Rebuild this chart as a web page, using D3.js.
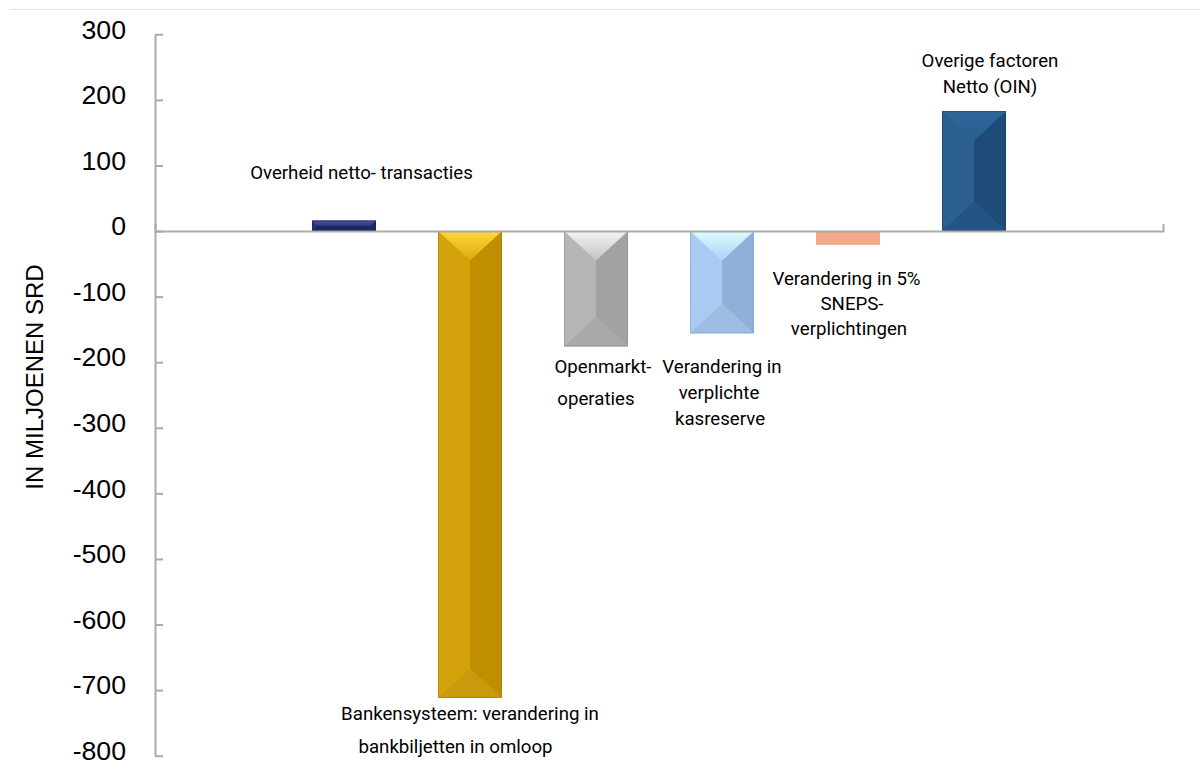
<!DOCTYPE html>
<html>
<head>
<meta charset="utf-8">
<script src="https://cdn.jsdelivr.net/npm/d3@7"></script>
<style>
  html, body { margin: 0; padding: 0; background: #ffffff; }
  svg { display: block; }
</style>
</head>
<body>
<svg id="chart" width="1200" height="769"></svg>
<script>
// Monetaire factoren: bijdrage aan de verandering van de geldhoeveelheid (mln SRD)
const categories = [
  "Overheid netto- transacties",
  "Bankensysteem: verandering in bankbiljetten in omloop",
  "Openmarkt-operaties",
  "Verandering in verplichte kasreserve",
  "Verandering in 5% SNEPS-verplichtingen",
  "Overige factoren Netto (OIN)"
];
const values = [16, -712, -176, -156, -21, 183];
const tickValues = [300, 200, 100, 0, -100, -200, -300, -400, -500, -600, -700, -800];
const labelLines = [
  ["Overheid netto- transacties"],
  ["Bankensysteem: verandering in", "bankbiljetten in omloop"],
  ["Openmarkt-", "operaties"],
  ["Verandering in", "verplichte", "kasreserve"],
  ["Verandering in 5%", "SNEPS-", "verplichtingen"],
  ["Overige factoren", "Netto (OIN)"]
];
const yTitle = "IN MILJOENEN SRD";

// Bevelled fills per bar: top, left, right, bottom, edge
const palettes = [
  { top: ["#4a56a3", "#2f3a80"], left: "#29337a", right: "#1f2866", bottom: "#1d265f", edge: "#1a2258", bevel: true },
  { top: ["#ffd83a", "#dcaa0c"], left: "#d4a20b", right: "#c08f00", bottom: "#c99a0b", edge: "#a07a00", bevel: true },
  { top: ["#f4f4f4", "#c4c4c4"], left: "#b6b6b6", right: "#a2a2a2", bottom: "#a9a9a9", edge: "#8c8c8c", bevel: true },
  { top: ["#dcfdff", "#aed2f4"], left: "#a9cbf2", right: "#8eb0d9", bottom: "#9dbde3", edge: "#7f9fc6", bevel: true },
  { flat: "#f3a98a", bevel: false },
  { top: ["#2e679a", "#2a5e8f"], left: "#2a5f90", right: "#1f4b78", bottom: "#235488", edge: "#1a3e66", bevel: true }
];

const svg = d3.select("#chart");
const plotLeft = 155, plotRight = 1163, plotTop = 34.3, plotBottom = 755.7;

const x = d3.scaleBand()
  .domain(categories)
  .range([plotLeft, plotRight])
  .paddingInner(0.492)
  .paddingOuter(1.246);

const y = d3.scaleLinear()
  .domain([-800, 300])
  .range([plotBottom, plotTop]);

// thin rule across the top of the page
svg.append("line")
  .attr("x1", 10).attr("x2", 1200)
  .attr("y1", 9.5).attr("y2", 9.5)
  .attr("stroke", "#e4e4e4").attr("stroke-width", 1);

// gradients for the top bevels
const defs = svg.append("defs");
palettes.forEach((p, i) => {
  if (!p.bevel) return;
  const g = defs.append("linearGradient")
    .attr("id", "topg" + i)
    .attr("x1", 0).attr("y1", 0).attr("x2", 0).attr("y2", 1);
  g.append("stop").attr("offset", "0%").attr("stop-color", p.top[0]);
  g.append("stop").attr("offset", "100%").attr("stop-color", p.top[1]);
});

// bars
const bars = svg.append("g").attr("class", "bars");
categories.forEach((c, i) => {
  const v = values[i];
  const p = palettes[i];
  const x0 = x(c), x1 = x(c) + x.bandwidth();
  const y0 = Math.min(y(v), y(0)), y1 = Math.max(y(v), y(0));
  const g = bars.append("g");
  if (!p.bevel) {
    g.append("rect")
      .attr("x", x0).attr("y", y0)
      .attr("width", x1 - x0).attr("height", y1 - y0)
      .attr("fill", p.flat);
    return;
  }
  // bevel depth: half the bar width, capped by half its height
  const half = (y1 - y0) / 2;
  const d = Math.min((x1 - x0) / 2, half);
  const dy = half > (x1 - x0) / 2 ? d * 0.92 : d;
  const poly = pts => "M" + pts.map(q => q.join(",")).join("L") + "Z";
  g.append("rect")
    .attr("x", x0).attr("y", y0)
    .attr("width", x1 - x0).attr("height", y1 - y0)
    .attr("fill", p.left);
  g.append("path").attr("d", poly([[x0, y0], [x0 + d, y0 + dy], [x0 + d, y1 - dy], [x0, y1]])).attr("fill", p.left);
  g.append("path").attr("d", poly([[x1, y0], [x1 - d, y0 + dy], [x1 - d, y1 - dy], [x1, y1]])).attr("fill", p.right);
  g.append("path").attr("d", poly([[x0, y1], [x1, y1], [x1 - d, y1 - dy], [x0 + d, y1 - dy]])).attr("fill", p.bottom);
  g.append("path").attr("d", poly([[x0, y0], [x1, y0], [x1 - d, y0 + dy], [x0 + d, y0 + dy]])).attr("fill", "url(#topg" + i + ")");
  g.append("rect")
    .attr("x", x0 + 0.5).attr("y", y0 + 0.5)
    .attr("width", x1 - x0 - 1).attr("height", y1 - y0 - 1)
    .attr("fill", "none").attr("stroke", p.edge).attr("stroke-opacity", 0.5).attr("stroke-width", 1);
});

// category axis along zero
const xAxis = svg.append("g")
  .attr("transform", `translate(0,${y(0)})`)
  .call(d3.axisBottom(x).tickSize(0).tickSizeOuter(-7).tickFormat(""));
xAxis.select(".domain").attr("stroke", "#ababab").attr("stroke-width", 2);

// value axis
const yAxis = svg.append("g")
  .attr("transform", `translate(${plotLeft},0)`)
  .call(d3.axisLeft(y).tickValues(tickValues).tickSize(-8).tickSizeOuter(0).tickPadding(29)
    .tickFormat(d => String(d)));
yAxis.select(".domain").attr("stroke", "#ababab").attr("stroke-width", 2);
yAxis.selectAll(".tick line").attr("stroke", "#ababab").attr("stroke-width", 2);
yAxis.selectAll(".tick text")
  .attr("fill", "#000")
  .attr("dy", "0.14em")
  .style("font-family", "'Liberation Sans', Arial, sans-serif")
  .style("font-size", "26.67px");

// axis title
svg.append("text")
  .attr("transform", `translate(43,${377}) rotate(-90)`)
  .attr("text-anchor", "middle")
  .style("font-family", "'Liberation Sans', Arial, sans-serif")
  .style("font-size", "24px")
  .attr("fill", "#000")
  .text(yTitle);

// data labels: offsets from bar centre / bar end, one baseline per line
const labelLayout = [
  { dx: [17.5], from: "zero", base: -52, gap: 0 },
  { dx: [0, -14.5], from: "end", base: 22, gap: 33 },
  { dx: [7, 0], from: "end", base: 27, gap: 32 },
  { dx: [0, -3, -2], from: "end", base: 40, gap: 26 },
  { dx: [-1.5, 4, 1], from: "end", base: 40, gap: 25 },
  { dx: [16, 16], from: "end", base: -44, gap: 26 }
];
const labels = svg.append("g").attr("class", "labels")
  .style("font-family", "Roboto, sans-serif")
  .style("font-size", "18.67px")
  .attr("fill", "#000")
  .attr("text-anchor", "middle");
categories.forEach((c, i) => {
  const L = labelLayout[i];
  const cx = x(c) + x.bandwidth() / 2;
  const yRef = L.from === "zero" ? y(0) : y(values[i]);
  labelLines[i].forEach((line, j) => {
    labels.append("text")
      .attr("x", cx + (L.dx[j] || 0))
      .attr("y", yRef + L.base + j * L.gap)
      .text(line);
  });
});
</script>
</body>
</html>
